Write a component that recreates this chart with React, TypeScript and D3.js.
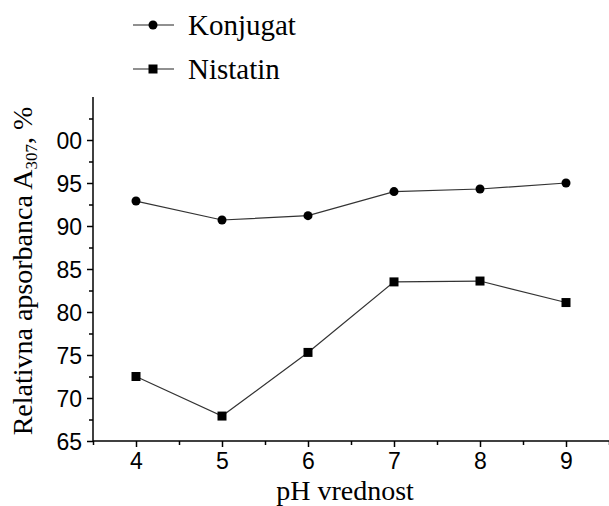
import { useEffect, useRef } from "react";
import { axisBottom, axisLeft, line, scaleLinear, select, symbol, symbolCircle, symbolSquare } from "d3";

const phValues = [4, 5, 6, 7, 8, 9];
const konjugat = [92.9, 90.7, 91.2, 94.0, 94.3, 95.0];
const nistatin = [72.5, 67.9, 75.3, 83.5, 83.6, 81.1];
const xTicks = [4, 5, 6, 7, 8, 9];
const xMinor = [3.5, 4.5, 5.5, 6.5, 7.5, 8.5, 9.5];
const yTicks = [65, 70, 75, 80, 85, 90, 95, 100];
const yMinor = [67.5, 72.5, 77.5, 82.5, 87.5, 92.5, 97.5, 102.5];
const yTickLabels = ["65", "70", "75", "80", "85", "90", "95", "00"];

const W = 609;
const H = 506;
const serif = "Liberation Serif";
const sans = "Liberation Sans";

export default function App() {
  const gx = useRef<SVGGElement>(null);
  const gy = useRef<SVGGElement>(null);
  const gxm = useRef<SVGGElement>(null);
  const gym = useRef<SVGGElement>(null);

  const x = scaleLinear([3.5, 9.5], [93, 609]);
  const y = scaleLinear([65, 105], [441, 97]);

  useEffect(() => {
    const ax = select(gx.current!);
    ax.call(axisBottom(x).tickValues(xTicks).tickSize(6).tickPadding(6).tickFormat((d) => String(d)) as any);
    ax.select(".domain").remove();
    ax.selectAll("line").attr("stroke-width", 1.5);
    ax.selectAll("text").style("font-family", sans).style("font-size", "23px").attr("fill", "#000");

    const ay = select(gy.current!);
    ay.call(axisLeft(y).tickValues(yTicks).tickSize(6).tickPadding(5).tickFormat((d, i) => yTickLabels[i]) as any);
    ay.select(".domain").remove();
    ay.selectAll("line").attr("stroke-width", 1.5);
    ay.selectAll("text").style("font-family", sans).style("font-size", "23px").attr("fill", "#000").attr("dy", "0.35em");

    const mx = select(gxm.current!);
    mx.call(axisBottom(x).tickValues(xMinor).tickSize(4).tickFormat(() => "") as any);
    mx.select(".domain").remove();
    mx.selectAll("line").attr("stroke-width", 1.5);

    const my = select(gym.current!);
    my.call(axisLeft(y).tickValues(yMinor).tickSize(4).tickFormat(() => "") as any);
    my.select(".domain").remove();
    my.selectAll("line").attr("stroke-width", 1.5);
  }, []);

  const path = line<number>()
    .x((_, i) => x(phValues[i]))
    .y((d) => y(d));

  const circle = symbol(symbolCircle, 64)();
  const square = symbol(symbolSquare, 81)();
  const serifStyle = { fontFamily: serif, fontSize: "28px" };

  return (
    <svg width={W} height={H} style={{ position: "absolute", left: 0, top: 0, background: "#fff" }}>
      <rect width={W} height={H} fill="#fff" />
      {/* legend */}
      <g>
        <line x1={133} x2={174} y1={25} y2={25} stroke="#222" strokeWidth={1.2} />
        <path d={circle!} transform="translate(153,25)" fill="#000" />
        <text x={188} y={35} style={{ ...serifStyle, fontSize: "29px" }}>Konjugat</text>
        <line x1={133} x2={174} y1={69} y2={69} stroke="#222" strokeWidth={1.2} />
        <path d={square!} transform="translate(153,69)" fill="#000" />
        <text x={188} y={79} style={{ ...serifStyle, fontSize: "29px" }}>Nistatin</text>
      </g>

      {/* axes */}
      <g ref={gx} transform={`translate(0,${y(65)})`} />
      <g ref={gxm} transform={`translate(0,${y(65)})`} />
      <g ref={gy} transform={`translate(${x(3.5)},0)`} />
      <g ref={gym} transform={`translate(${x(3.5)},0)`} />
      <line x1={x(3.5)} x2={x(9.5)} y1={y(65)} y2={y(65)} stroke="#000" strokeWidth={1.5} />
      <line x1={x(3.5)} x2={x(3.5)} y1={y(65)} y2={y(105)} stroke="#000" strokeWidth={1.5} />

      {/* series */}
      <path d={path(konjugat)!} fill="none" stroke="#333" strokeWidth={1.2} />
      <path d={path(nistatin)!} fill="none" stroke="#333" strokeWidth={1.2} />
      {konjugat.map((v, i) => (
        <path key={`k${i}`} d={circle!} transform={`translate(${x(phValues[i])},${y(v)})`} fill="#000" />
      ))}
      {nistatin.map((v, i) => (
        <path key={`n${i}`} d={square!} transform={`translate(${x(phValues[i])},${y(v)})`} fill="#000" />
      ))}

      {/* axis titles */}
      <text x={345} y={500} textAnchor="middle" style={serifStyle}>pH vrednost</text>
      <text transform="translate(32,271) rotate(-90)" textAnchor="middle" style={serifStyle}>
        Relativna apsorbanca A<tspan style={{ fontSize: "17px" }} dy={5}>307</tspan>
        <tspan dy={-5}>, %</tspan>
      </text>
    </svg>
  );
}
